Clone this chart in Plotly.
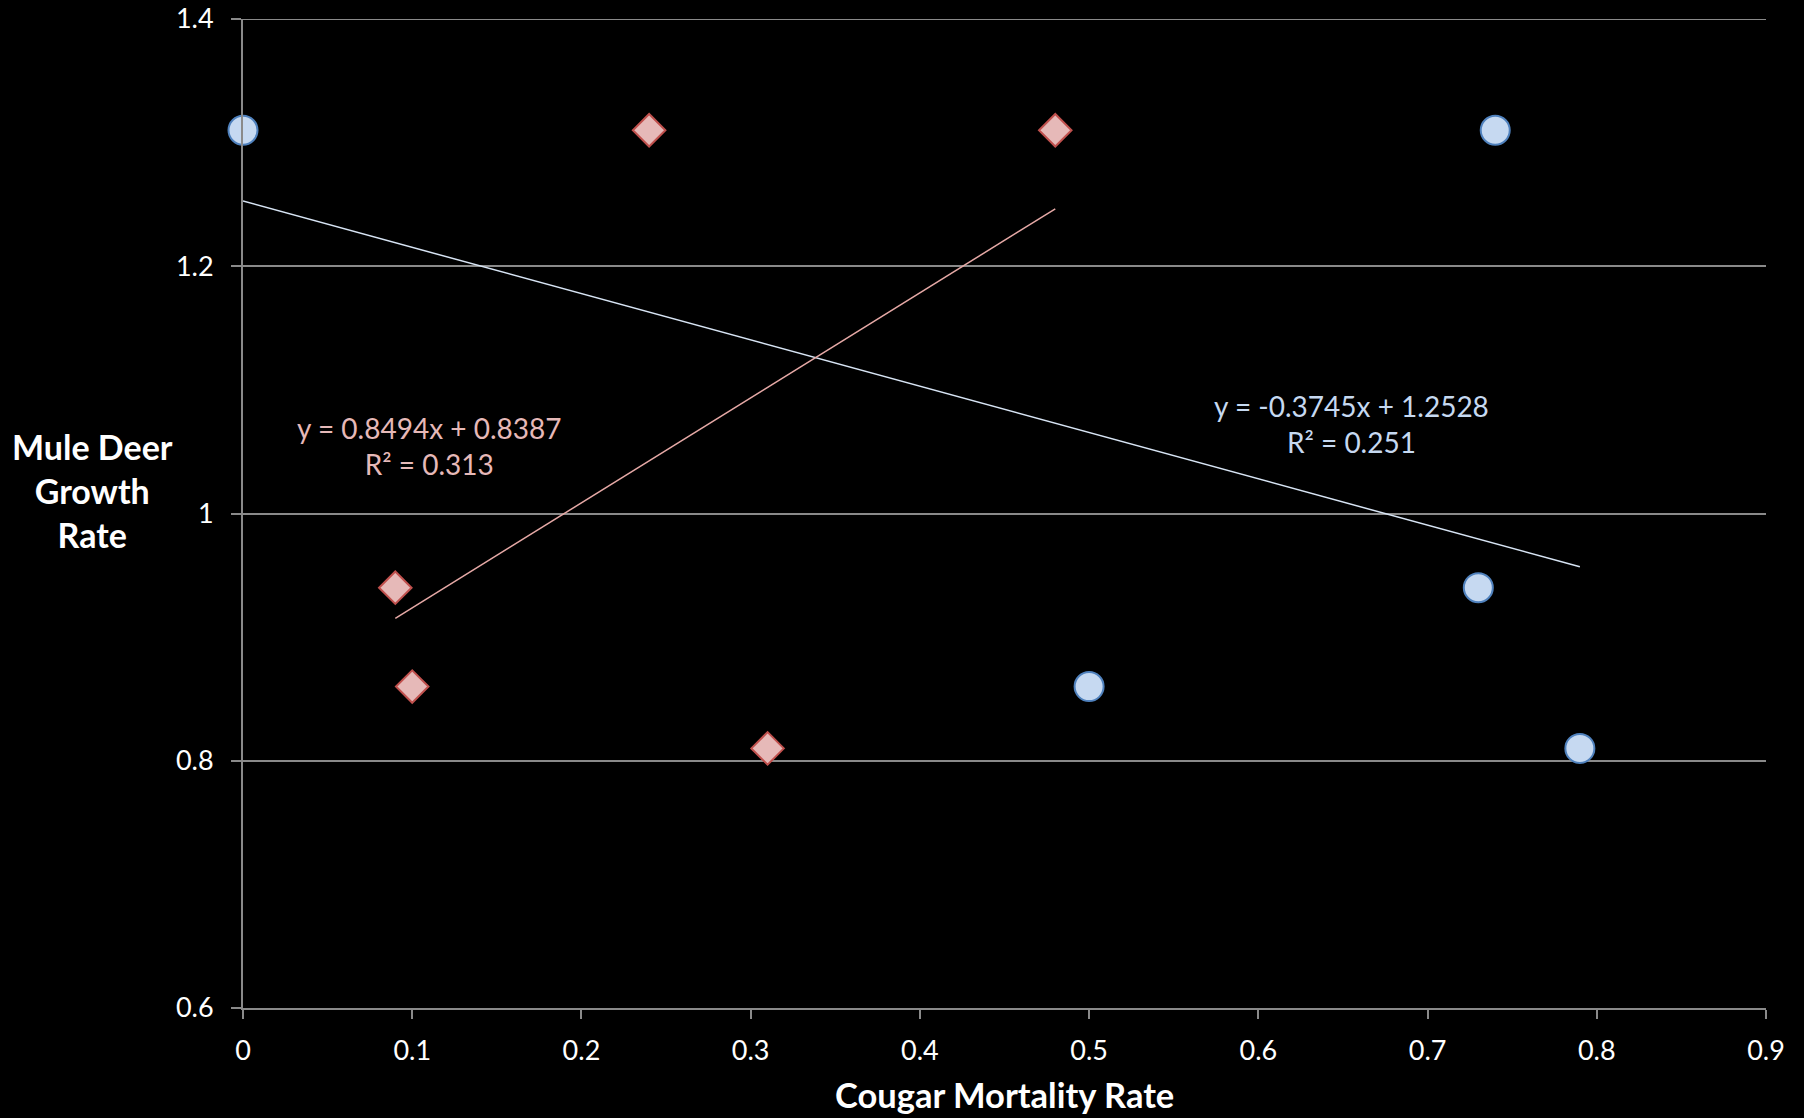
import numpy as np
import plotly.graph_objects as go

# Data
blue_x = [0.0, 0.74, 0.73, 0.50, 0.79]
blue_y = [1.31, 1.31, 0.94, 0.86, 0.81]
red_x = [0.09, 0.10, 0.24, 0.48, 0.31]
red_y = [0.94, 0.86, 1.31, 1.31, 0.81]
x_ticks = [0, 0.1, 0.2, 0.3, 0.4, 0.5, 0.6, 0.7, 0.8, 0.9]
y_ticks = [0.6, 0.8, 1.0, 1.2, 1.4]
x_title = "Cougar Mortality Rate"
y_title = "Mule Deer<br>Growth<br>Rate"

FONT = "Lato"
GRID = "#8A8A8A"

def fit(xs, ys):
    m, b = np.polyfit(xs, ys, 1)
    r = np.corrcoef(xs, ys)[0, 1] ** 2
    lx = np.array([min(xs), max(xs)])
    return m, b, r, lx, m * lx + b

bm, bb, br, blx, bly = fit(blue_x, blue_y)
rm, rb, rr, rlx, rly = fit(red_x, red_y)

def eq(m, b, r):
    sign = "+" if b >= 0 else "-"
    return f"y = {m:.4f}x {sign} {abs(b):.4f}<br>R² = {r:.3f}"

fig = go.Figure()
fig.add_trace(go.Scatter(x=blx, y=bly, mode="lines",
                         line=dict(color="#D7E4F4", width=1.5), showlegend=False, hoverinfo="skip"))
fig.add_trace(go.Scatter(x=rlx, y=rly, mode="lines",
                         line=dict(color="#E6A9A6", width=1.5), showlegend=False, hoverinfo="skip"))
fig.add_trace(go.Scatter(x=blue_x, y=blue_y, mode="markers",
                         marker=dict(symbol="circle", size=29, color="#C6D9F1",
                                     line=dict(color="#4F81BD", width=2)),
                         showlegend=False, cliponaxis=False))
fig.add_trace(go.Scatter(x=red_x, y=red_y, mode="markers",
                         marker=dict(symbol="diamond", size=25, color="#E6B9B8",
                                     line=dict(color="#C0504D", width=2)),
                         showlegend=False, cliponaxis=False))

fig.add_annotation(x=0.11, y=1.055, xref="x", yref="y", text=eq(rm, rb, rr),
                   showarrow=False, align="center",
                   font=dict(family=FONT, size=28, color="#E6B9B8"))
fig.add_annotation(x=0.655, y=1.0725, xref="x", yref="y", text=eq(bm, bb, br),
                   showarrow=False, align="center",
                   font=dict(family=FONT, size=28, color="#C6D9F1"))
fig.add_annotation(x=-0.099, y=0.523, xref="paper", yref="paper", text=f"<b>{y_title}</b>",
                   showarrow=False, align="center", xanchor="center", yanchor="middle",
                   font=dict(family=FONT, size=34, color="white"))
fig.add_annotation(x=0.5, y=0, xref="paper", yref="paper", text=f"<b>{x_title}</b>",
                   showarrow=False, align="center", xanchor="center", yanchor="middle",
                   yshift=-86, font=dict(family=FONT, size=34.5, color="white"))

fig.update_layout(
    width=1804, height=1118,
    margin=dict(l=243, r=38, t=19, b=110),
    paper_bgcolor="black", plot_bgcolor="black",
    font=dict(family=FONT, color="white", size=27),
    xaxis=dict(range=[0, 0.9], tickvals=x_ticks, ticktext=[f"{v:g}" for v in x_ticks],
               showgrid=False, zeroline=False, showline=True, linecolor=GRID, linewidth=2,
               ticks="outside", ticklen=9, tickcolor=GRID, tickwidth=2, ticklabelstandoff=9,
               automargin=False),
    yaxis=dict(range=[0.6, 1.4], tickvals=y_ticks, ticktext=[f"{v:g}" for v in y_ticks],
               showgrid=True, gridcolor=GRID, gridwidth=2, zeroline=False,
               showline=True, linecolor=GRID, linewidth=2,
               ticks="outside", ticklen=10, tickcolor=GRID, tickwidth=2, ticklabelstandoff=12,
               automargin=False),
)
fig.add_shape(type="line", xref="paper", yref="y", x0=0, x1=1, y0=1.4, y1=1.4,
              line=dict(color=GRID, width=2), layer="below")

fig.write_html("out.html", config={"displayModeBar": False},
               post_script="document.body.style.margin='0';document.body.style.background='black';")
